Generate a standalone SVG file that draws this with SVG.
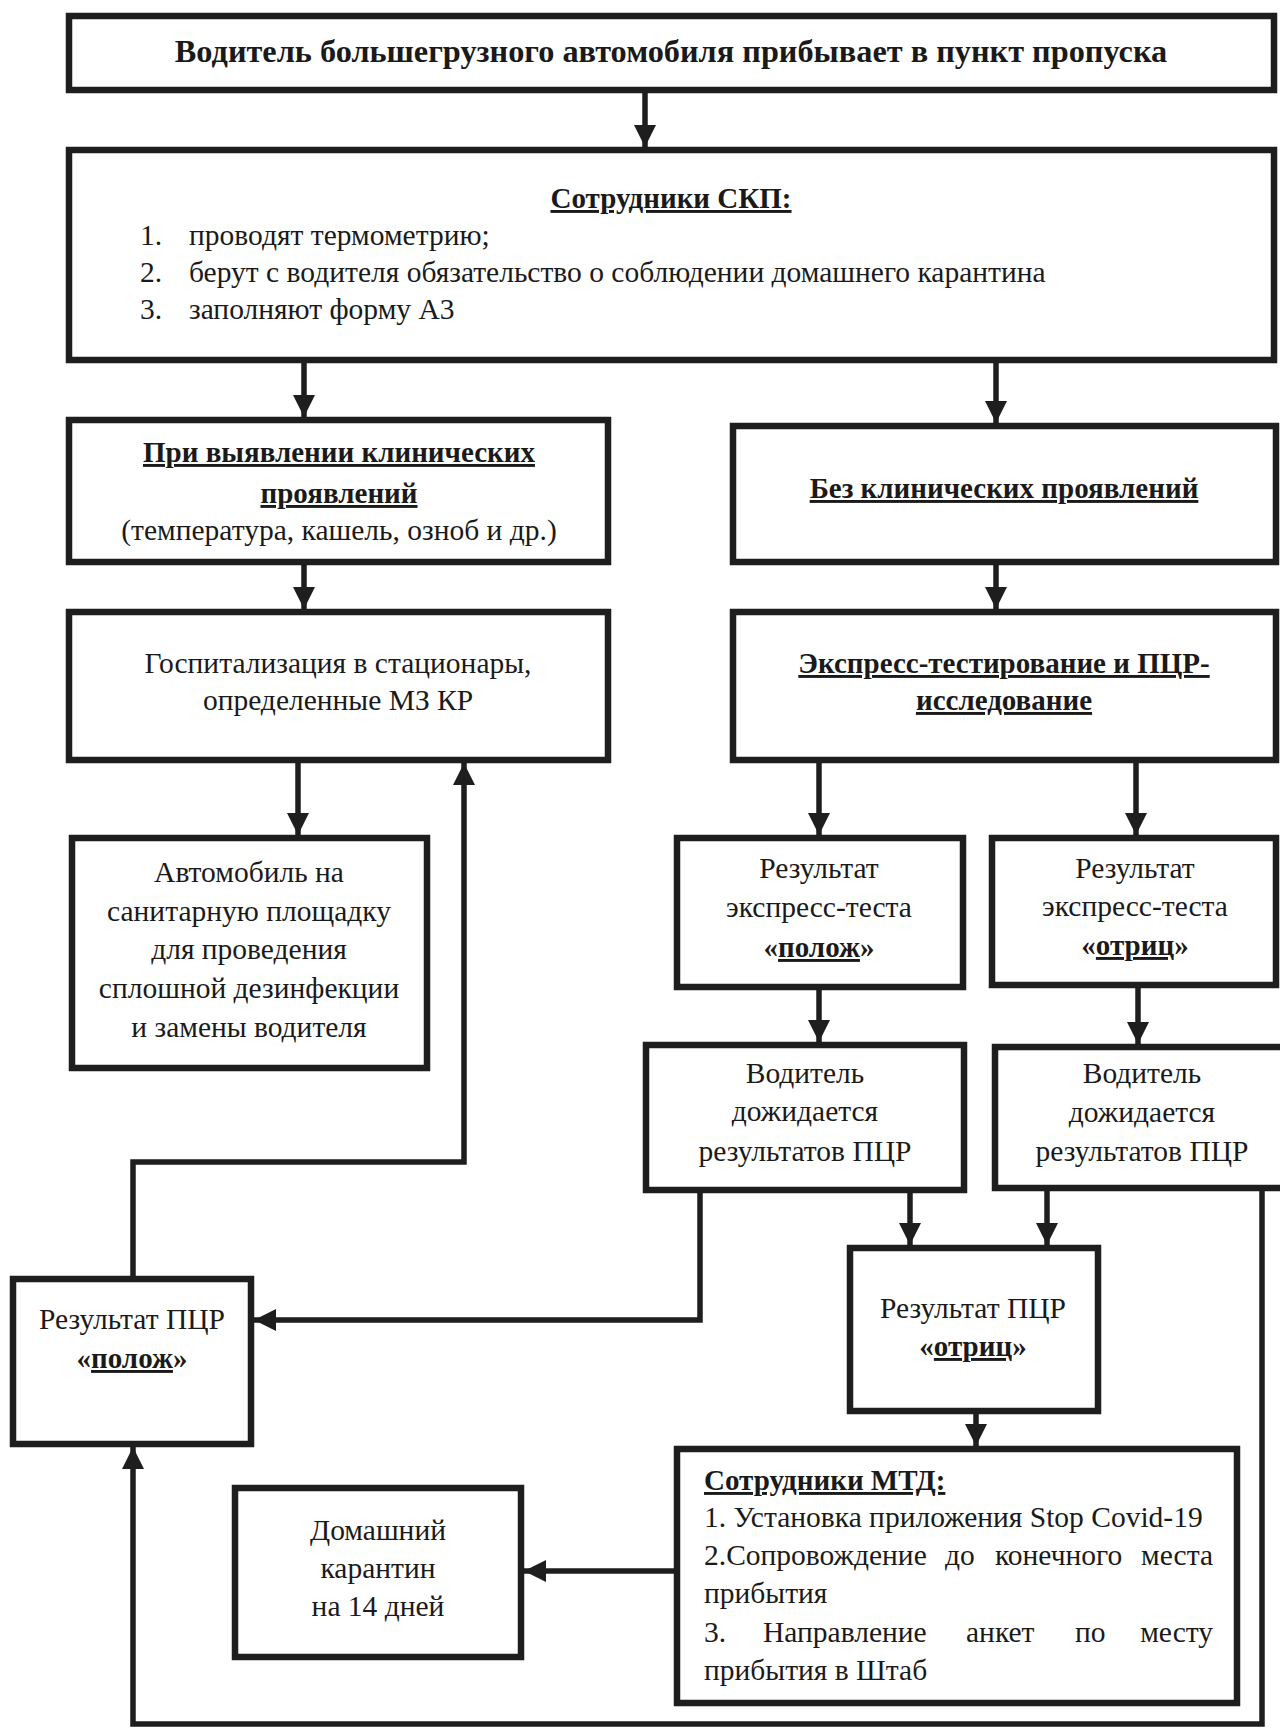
<svg xmlns="http://www.w3.org/2000/svg" width="1280" height="1729" viewBox="0 0 1280 1729">
<style>
.box{fill:#fff;stroke:#1e1e1e;stroke-width:6.5}
.ln{fill:none;stroke:#1e1e1e;stroke-width:5.5}
text{font-family:"Liberation Serif","Times New Roman",serif;font-size:29.5px;fill:#1a1a1a}
.c{text-anchor:middle}
.b{font-weight:bold;font-size:29px}
.u{text-decoration:underline}
</style>
<defs>
<marker id="ah" markerUnits="userSpaceOnUse" markerWidth="24" markerHeight="24" refX="22" refY="11" orient="auto">
<path d="M0,0 L22,11 L0,22 z" fill="#1e1e1e"/>
</marker>
</defs>
<rect width="1280" height="1729" fill="#fff"/>

<g id="connectors">
<path class="ln" d="M645,93 V147" marker-end="url(#ah)"/>
<path class="ln" d="M304,363 V417" marker-end="url(#ah)"/>
<path class="ln" d="M996,363 V423" marker-end="url(#ah)"/>
<path class="ln" d="M304,565 V609" marker-end="url(#ah)"/>
<path class="ln" d="M996,565 V609" marker-end="url(#ah)"/>
<path class="ln" d="M298,763 V835" marker-end="url(#ah)"/>
<path class="ln" d="M819,763 V835" marker-end="url(#ah)"/>
<path class="ln" d="M1136,763 V835" marker-end="url(#ah)"/>
<path class="ln" d="M819,990 V1042" marker-end="url(#ah)"/>
<path class="ln" d="M1138,988 V1044" marker-end="url(#ah)"/>
<path class="ln" d="M700,1193 V1320 H254" marker-end="url(#ah)"/>
<path class="ln" d="M910,1193 V1245" marker-end="url(#ah)"/>
<path class="ln" d="M1047,1191 V1245" marker-end="url(#ah)"/>
<path class="ln" d="M133,1276 V1162 H464 V763" marker-end="url(#ah)"/>
<path class="ln" d="M1262,1191 V1724 H133 V1447" marker-end="url(#ah)"/>
<path class="ln" d="M976,1414 V1446" marker-end="url(#ah)"/>
<path class="ln" d="M674,1571 H524" marker-end="url(#ah)"/>
</g>

<g id="n1">
<rect class="box" x="69" y="16" width="1205" height="74"/>
<text class="c b" x="671" y="62" style="font-size:32.3px">Водитель большегрузного автомобиля прибывает в пункт пропуска</text>
</g>

<g id="n2">
<rect class="box" x="69" y="150" width="1205" height="210"/>
<text class="c b u" x="671" y="208">Сотрудники СКП:</text>
<text x="140" y="245">1.</text><text x="189" y="245">проводят термометрию;</text>
<text x="140" y="282">2.</text><text x="189" y="282">берут с водителя обязательство о соблюдении домашнего карантина</text>
<text x="140" y="319">3.</text><text x="189" y="319">заполняют форму А3</text>
</g>

<g id="n3">
<rect class="box" x="69" y="420" width="539" height="142"/>
<text class="c b u" x="339" y="462">При выявлении клинических</text>
<text class="c b u" x="339" y="503">проявлений</text>
<text class="c" x="339" y="540">(температура, кашель, озноб и др.)</text>
</g>

<g id="n4">
<rect class="box" x="733" y="426" width="543" height="136"/>
<text class="c b u" x="1004" y="498">Без клинических проявлений</text>
</g>

<g id="n5">
<rect class="box" x="69" y="612" width="539" height="148"/>
<text class="c" x="338" y="673">Госпитализация в стационары,</text>
<text class="c" x="338" y="710">определенные МЗ КР</text>
</g>

<g id="n6">
<rect class="box" x="733" y="612" width="543" height="148"/>
<text class="c b u" x="1004" y="673">Экспресс-тестирование и ПЦР-</text>
<text class="c b u" x="1004" y="710">исследование</text>
</g>

<g id="n7">
<rect class="box" x="72" y="838" width="355" height="230"/>
<text class="c" x="249" y="882">Автомобиль на</text>
<text class="c" x="249" y="921">санитарную площадку</text>
<text class="c" x="249" y="959">для проведения</text>
<text class="c" x="249" y="998">сплошной дезинфекции</text>
<text class="c" x="249" y="1037">и замены водителя</text>
</g>

<g id="n8">
<rect class="box" x="677" y="838" width="286" height="149"/>
<text class="c" x="819" y="878">Результат</text>
<text class="c" x="819" y="917">экспресс-теста</text>
<text class="c b" x="819" y="957">«<tspan class="u">полож</tspan>»</text>
</g>

<g id="n9">
<rect class="box" x="992" y="838" width="284" height="147"/>
<text class="c" x="1135" y="878">Результат</text>
<text class="c" x="1135" y="916">экспресс-теста</text>
<text class="c b" x="1135" y="955">«<tspan class="u">отриц</tspan>»</text>
</g>

<g id="n10">
<rect class="box" x="646" y="1045" width="318" height="145"/>
<text class="c" x="805" y="1083">Водитель</text>
<text class="c" x="805" y="1121">дожидается</text>
<text class="c" x="805" y="1161">результатов ПЦР</text>
</g>

<g id="n11">
<rect class="box" x="995" y="1047" width="295" height="141"/>
<text class="c" x="1142" y="1083">Водитель</text>
<text class="c" x="1142" y="1122">дожидается</text>
<text class="c" x="1142" y="1161">результатов ПЦР</text>
</g>

<g id="n12">
<rect class="box" x="13" y="1279" width="238" height="165"/>
<text class="c" x="132" y="1329">Результат ПЦР</text>
<text class="c b" x="132" y="1368">«<tspan class="u">полож</tspan>»</text>
</g>

<g id="n13">
<rect class="box" x="850" y="1248" width="248" height="163"/>
<text class="c" x="973" y="1318">Результат ПЦР</text>
<text class="c b" x="973" y="1356">«<tspan class="u">отриц</tspan>»</text>
</g>

<g id="n14">
<rect class="box" x="677" y="1449" width="560" height="254"/>
<text class="b u" x="704" y="1490">Сотрудники МТД:</text>
<text x="704" y="1527">1. Установка приложения Stop Covid-19</text>
<text y="1565"><tspan x="704">2.Сопровождение</tspan><tspan x="945">до</tspan><tspan x="995">конечного</tspan><tspan x="1213" text-anchor="end">места</tspan></text>
<text x="704" y="1603">прибытия</text>
<text y="1642"><tspan x="704">3.</tspan><tspan x="763">Направление</tspan><tspan x="966">анкет</tspan><tspan x="1075">по</tspan><tspan x="1213" text-anchor="end">месту</tspan></text>
<text x="704" y="1680">прибытия в Штаб</text>
</g>

<g id="n15">
<rect class="box" x="235" y="1488" width="286" height="169"/>
<text class="c" x="378" y="1540">Домашний</text>
<text class="c" x="378" y="1578">карантин</text>
<text class="c" x="378" y="1616">на 14 дней</text>
</g>
</svg>
